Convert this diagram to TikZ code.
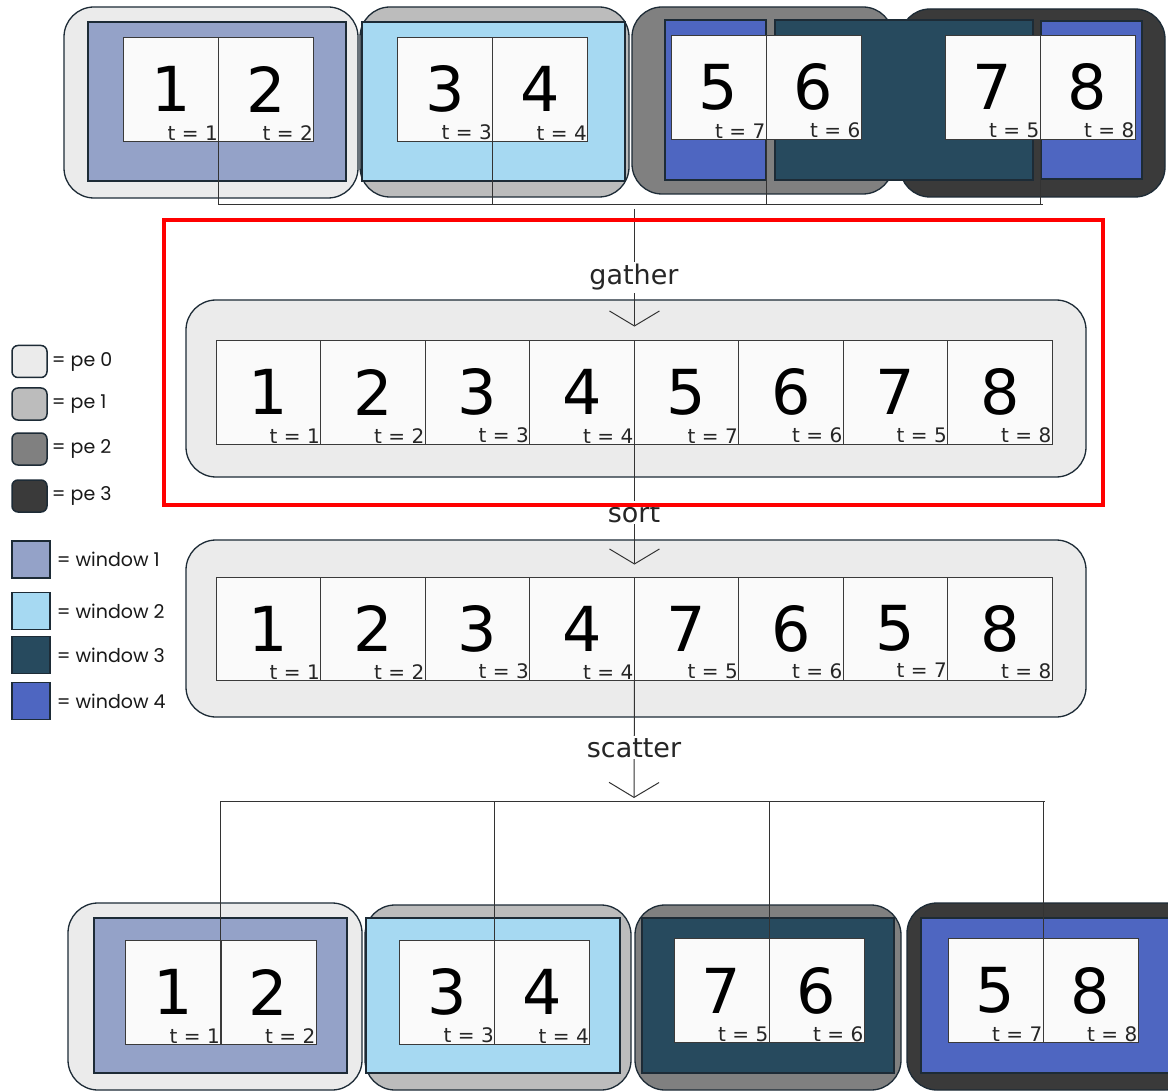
\documentclass[tikz,border=0pt]{standalone}
\usepackage{fontspec}
\setmainfont{DejaVu Sans}
\newfontfamily\keyfont{Poppins}
\usetikzlibrary{arrows.meta}

\definecolor{edgec}{HTML}{1D2B36}
\definecolor{cellline}{HTML}{3A3A3A}
\definecolor{cellc}{HTML}{FAFAFA}
\definecolor{wirec}{HTML}{333333}
\definecolor{pe0c}{HTML}{EBEBEB}
\definecolor{pe1c}{HTML}{BCBCBC}
\definecolor{pe2c}{HTML}{808080}
\definecolor{pe3c}{HTML}{3A3A3A}
\definecolor{win1c}{HTML}{94A2C8}
\definecolor{win2c}{HTML}{A6D9F2}
\definecolor{win3c}{HTML}{274A5E}
\definecolor{win4c}{HTML}{4E66C1}

\begin{document}
\begin{tikzpicture}[x=1pt,y=-1pt,
  pebox/.style={draw=edgec, line width=1.3pt, rounded corners=30pt},
  winbox/.style={draw=edgec, line width=1.2pt},
  cell/.style={draw=cellline, fill=cellc, line width=0.9pt, inner sep=0pt,
               minimum width=95pt, minimum height=104pt, font=\fontsize{62}{62}\selectfont},
  tlab/.style={anchor=south east, inner sep=1pt, text=black!85, font=\fontsize{20}{20}\selectfont},
  wire/.style={draw=wirec, line width=1pt},
  flow/.style={wire, -{Straight Barb[length=15pt,width=50pt]}},
  steplab/.style={fill=white, inner sep=2pt, anchor=base, text=black!85, font=\fontsize{27}{27}\selectfont},
  pekey/.style={draw=edgec, line width=1.5pt, rounded corners=6pt, minimum width=35pt, minimum height=32pt, inner sep=0pt},
  winkey/.style={draw=edgec, line width=1.3pt, minimum width=38pt, minimum height=37pt, inner sep=0pt},
  keytext/.style={anchor=west, inner sep=0pt, text=black!90, font=\keyfont\fontsize{19}{19}\selectfont}]
  \useasboundingbox (0,0) rectangle (1168,1091);
  \clip (0,0) rectangle (1168,1091);

  % 上排：各 pe 的圆角框
  \fill[white] (0,0) rectangle (1168,1091);
  \draw[pebox, fill=pe0c] (64,7) rectangle (358,198);
  \draw[pebox, fill=pe1c] (360,7) rectangle (629,197);
  \draw[pebox, fill=pe2c] (632,7) rectangle (893,194);
  \draw[pebox, fill=pe3c] (900,9) rectangle (1165,197);
  % 上排：窗口（window 3 跨过 pe 2 与 pe 3）
  \draw[winbox, fill=win1c] (88,22) rectangle (346,181);
  \draw[winbox, fill=win2c] (362,22) rectangle (625,181);
  \draw[winbox, fill=win4c] (665,20) rectangle (766,180);
  \draw[winbox, fill=win3c] (775,20) rectangle (1033,180);
  \draw[winbox, fill=win4c] (1041,21) rectangle (1142,179);
  % 上排：数据格
  \foreach \x/\y/\n/\t [count=\i] in {171/89/1/1, 266/89/2/2, 445/89/3/3, 540/89/4/4,
                                      718.5/87/5/7, 813.5/87/6/6, 992.5/87/7/5, 1087.5/87/8/8}{
    \node[cell] (a\i) at (\x,\y) {\n};
    \node[tlab] at (a\i.south east) {t = \t};
  }

  % gather 之后的框
  \draw[pebox, fill=pe0c] (186,300) rectangle (1086,477);
  \foreach \n/\t [count=\i] in {1/1, 2/2, 3/3, 4/4, 5/7, 6/6, 7/5, 8/8}{
    \node[cell, minimum width=104.5pt] (g\i) at ({268.25+104.5*(\i-1)},392) {\n};
    \node[tlab] at (g\i.south east) {t = \t};
  }

  % sort 之后的框
  \draw[pebox, fill=pe0c] (186,540) rectangle (1086,717);
  \foreach \n/\t [count=\i] in {1/1, 2/2, 3/3, 4/4, 7/5, 6/6, 5/7, 8/8}{
    \node[cell, minimum width=104.5pt, minimum height=103pt] (s\i) at ({268.25+104.5*(\i-1)},628.5) {\n};
  }
  \foreach \t in {1,2,3,4,5,6,8}{
    \node[tlab] at (s\t.south east) {t = \t};
  }
  \node[tlab, yshift=2pt] at (s7.south east) {t = 7};

  % 下排：scatter 之后
  \draw[pebox, fill=pe0c] (68,903) rectangle (362,1090);
  \draw[pebox, fill=pe1c] (365,905) rectangle (631,1090);
  \draw[pebox, fill=pe2c] (635,905) rectangle (901,1090);
  \draw[pebox, fill=pe3c] (907,903) rectangle (1195,1090);
  \draw[winbox, fill=win1c] (94,918) rectangle (347,1073);
  \draw[winbox, fill=win2c] (366,918) rectangle (620,1073);
  \draw[winbox, fill=win3c] (642,918) rectangle (894,1073);
  \draw[winbox, fill=win4c] (921,918) rectangle (1175,1073);
  \foreach \x/\y/\n/\t [count=\i] in {173/992/1/1, 268.5/992/2/2, 447/992/3/3, 542/992/4/4,
                                      721.5/990.5/7/5, 816.5/990.5/6/6, 995.5/990.5/5/7, 1090.5/990.5/8/8}{
    \node[cell] (b\i) at (\x,\y) {\n};
    \node[tlab] at (b\i.south east) {t = \t};
  }

  % 汇集线与分发线
  \coordinate (busT) at (634,205);
  \coordinate (busB) at (634,801);
  \foreach \i in {1,3,5,7}{
    \draw[wire] (a\i.south east) -- (a\i.south east |- busT);
    \draw[wire] (b\i.north east |- busB) -- (b\i.north east);
  }
  \draw[wire] (a1.south east |- busT) -- ([xshift=3pt]a7.south east |- busT);
  \draw[wire] (b1.north east |- busB) -- ([xshift=2pt]b7.north east |- busB);
  \draw[flow, shorten <=4pt, shorten >=13pt] (g4.north east |- busT) -- (g4.north east);
  \draw[flow, shorten >=12pt] (g4.south east) -- (s4.north east);
  \draw[flow, shorten >=3pt] (s4.south east) -- (busB);
  \node[steplab] (gatherlab) at (634,285) {gather};
  \node[steplab] (sortlab) at (634,522) {sort};
  \node[steplab] (scatterlab) at (634,757) {scatter};

  % 红框
  \draw[red, line width=4pt] (164,220) rectangle (1103,505);

  % 图例
  \foreach \y/\c/\k in {361.5/pe0c/0, 404/pe1c/1, 449/pe2c/2, 496/pe3c/3}{
    \node[pekey, fill=\c] (pk\k) at (29.5,\y) {};
    \node[keytext] at ([xshift=4pt]pk\k.east) {= pe \k};
  }
  \foreach \y/\c/\k in {559.5/win1c/1, 611/win2c/2, 655/win3c/3, 701/win4c/4}{
    \node[winkey, fill=\c] (wk\k) at (31,\y) {};
    \node[keytext] at ([xshift=6pt]wk\k.east) {= window \k};
  }
\end{tikzpicture}
\end{document}
